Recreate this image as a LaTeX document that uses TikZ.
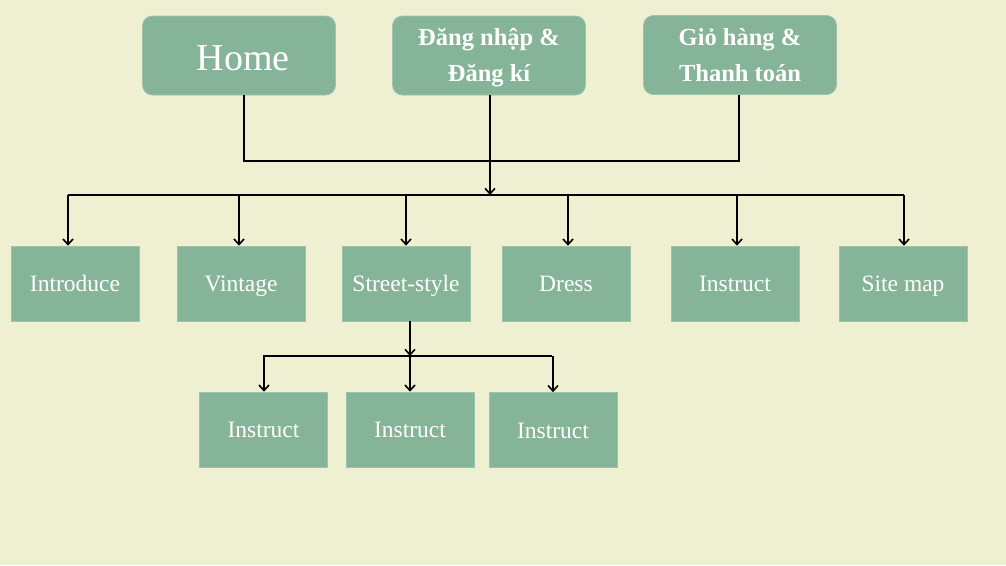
\documentclass[tikz,border=0pt]{standalone}
\usepackage{fontspec}
\setmainfont{Liberation Serif}
\usetikzlibrary{arrows.meta}
\definecolor{bg}{RGB}{239,240,209}
\definecolor{boxg}{RGB}{134,180,153}
\newcommand{\toptop}{\rule{0pt}{22pt}}
\newcommand{\topbot}{\rule[-5pt]{0pt}{5pt}}
\begin{document}
\begin{tikzpicture}[x=1pt,y=-1pt,
  topbox/.style={fill=boxg,draw=boxg!80!white,line width=0.8pt,rounded corners=10pt,minimum width=193pt,minimum height=79pt,text=white,align=center,inner sep=0pt,font=\fontsize{24.5}{36}\selectfont\bfseries},
  rowbox/.style={fill=boxg,draw=boxg!80!white,line width=0.6pt,minimum width=128pt,minimum height=75pt,text=white,text height=18.4pt,text depth=2pt,inner sep=0pt,font=\fontsize{23.5}{26}\selectfont},
  conn/.style={line width=2pt,draw=black},
  arr/.style={conn,-{Straight Barb[length=5.5pt,width=10pt,line width=1.6pt]}}]
\useasboundingbox[fill=bg] (0,0) rectangle (1006,565);
% top boxes
\node[topbox,font=\fontsize{38}{40}\selectfont,text height=29pt,text depth=0pt,text width=120pt] (home) at (239,55.5) {\hspace*{8pt}Home};
\node[topbox] (dang) at (489,55.5) {\toptop Đăng nhập \&\\Đăng kí\topbot};
\node[topbox] (gio) at (740,55) {\toptop Giỏ hàng \&\\Thanh toán\topbot};
% row boxes
\node[rowbox] (intro) at (75,283.5) {Introduce};
\node[rowbox] (vint) at (241,283.5) {Vintage};
\node[rowbox] (street) at (406,283.5) {Street-style};
\node[rowbox] (dress) at (566,283.5) {Dress};
\node[rowbox] (instr) at (735,283.5) {Instruct};
\node[rowbox] (site) at (903,283.5) {Site map};
% bottom boxes
\node[rowbox] (i1) at (263.5,429.5) {Instruct};
\node[rowbox] (i2) at (410,429.5) {Instruct};
\node[rowbox] (i3) at (553,430) {Instruct};
% junction coordinates
\coordinate (j1) at (244,161);
\coordinate (j2) at (739,161);
\coordinate (jd) at (490,195);
\coordinate (bL) at (68,195);
\coordinate (bR) at (904,195);
\coordinate (c1) at (68,195);
\coordinate (c2) at (239,195);
\coordinate (c3) at (406,195);
\coordinate (c4) at (568,195);
\coordinate (c5) at (737,195);
\coordinate (c6) at (904,195);
\coordinate (sj) at (410,356);
\coordinate (sL) at (263,356);
\coordinate (sR) at (552,356);
\coordinate (s1) at (264,356);
\coordinate (s2) at (410,356);
\coordinate (s3) at (553,356);
% connectors
\draw[conn] (home.south -| j1) -- (j1) -- (j2) -- (gio.south -| j2);
\draw[arr] (dang.south -| jd) -- (jd);
\draw[conn] (bL) -- (bR);
\draw[arr] (c1) -- (c1 |- intro.north);
\draw[arr] (c2) -- (c2 |- vint.north);
\draw[arr] (c3) -- (c3 |- street.north);
\draw[arr] (c4) -- (c4 |- dress.north);
\draw[arr] (c5) -- (c5 |- instr.north);
\draw[arr] (c6) -- (c6 |- site.north);
\draw[arr] (street.south -| sj) -- (sj);
\draw[conn] (sL) -- (sR);
\draw[arr] (s1) -- (s1 |- i1.north);
\draw[arr] (s2) -- (s2 |- i2.north);
\draw[arr] (s3) -- (s3 |- i3.north);
\end{tikzpicture}
\end{document}
